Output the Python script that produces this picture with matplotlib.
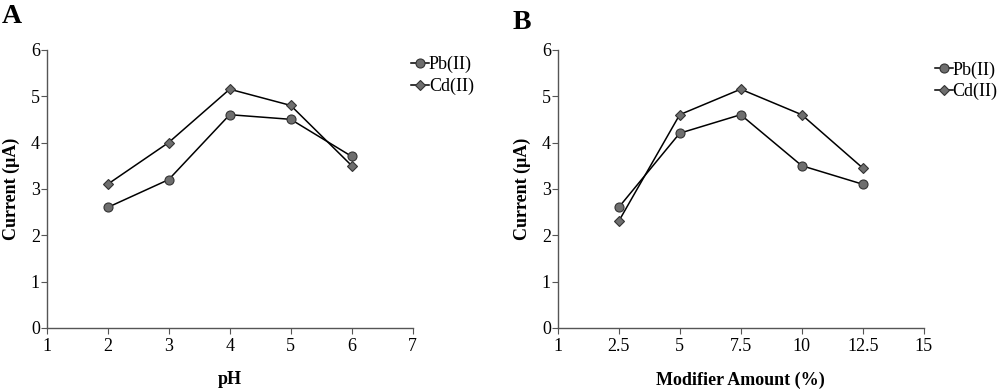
import numpy as np
import matplotlib
matplotlib.use('Agg')
import matplotlib.pyplot as plt

plt.rcParams['font.family'] = ['Liberation Serif', 'DejaVu Serif']

# panel A: pH
ph = [2, 3, 4, 5, 6]
pb_ph = [2.6, 3.2, 4.6, 4.5, 3.7]
cd_ph = [3.1, 4.0, 5.15, 4.8, 3.5]

# panel B: modifier amount (category axis)
mod_labels = ['1', '2.5', '5', '7.5', '10', '12.5', '15']
mod_pos = [1, 2, 3, 4, 5]
pb_mod = [2.6, 4.2, 4.6, 3.5, 3.1]
cd_mod = [2.3, 4.6, 5.15, 4.6, 3.45]

fig = plt.figure(figsize=(10, 3.89), dpi=100)
axA = fig.add_axes([0.0467, 0.157, 0.366, 0.715])
axB = fig.add_axes([0.5577, 0.157, 0.366, 0.715])

def style(ax):
    for s in ['top', 'right']:
        ax.spines[s].set_visible(False)
    for s in ['left', 'bottom']:
        ax.spines[s].set_color('#555555')
        ax.spines[s].set_linewidth(1.0)
    ax.tick_params(axis='both', direction='out', length=4, color='#555555',
                   labelsize=13)
    ax.tick_params(axis='y', pad=1)
    ax.tick_params(axis='x', pad=3)
    ax.set_ylim(0, 6)
    ax.set_yticks(range(0, 7))
    ax.set_ylabel('Current (μA)', fontsize=13, fontweight='bold', labelpad=8)

def draw(ax, x, pb, cd):
    ax.plot(x, pb, color='black', lw=1.1, marker='o', ms=6.5,
            mfc='#6e6e6e', mec='#333333', mew=0.8, label='Pb(II)')
    ax.plot(x, cd, color='black', lw=1.1, marker='D', ms=4.8,
            mfc='#6e6e6e', mec='#333333', mew=0.8, label='Cd(II)')

draw(axA, ph, pb_ph, cd_ph)
style(axA)
axA.set_xlim(1, 7)
axA.set_xticks(range(1, 8))
axA.set_xlabel('pH', fontsize=13, fontweight='bold', labelpad=12)
axA.legend(loc='upper left', bbox_to_anchor=(0.99, 0.985), frameon=False,
           fontsize=13, handlelength=1.0, handletextpad=0.0,
           labelspacing=0.25, borderpad=0.1, borderaxespad=0)

draw(axB, mod_pos, pb_mod, cd_mod)
style(axB)
axB.set_xlim(0, 6)
axB.set_xticks(range(0, 7))
axB.set_xticklabels(mod_labels)
axB.set_xlabel('Modifier Amount (%)', fontsize=13, fontweight='bold', labelpad=12)
axB.legend(loc='upper left', bbox_to_anchor=(1.025, 0.965), frameon=False,
           fontsize=13, handlelength=1.0, handletextpad=0.0,
           labelspacing=0.25, borderpad=0.1, borderaxespad=0)

fig.text(0.002, 0.99, 'A', fontsize=20, fontweight='bold', va='top')
fig.text(0.513, 0.975, 'B', fontsize=20, fontweight='bold', va='top')

fig.savefig('out.png', dpi=100)
